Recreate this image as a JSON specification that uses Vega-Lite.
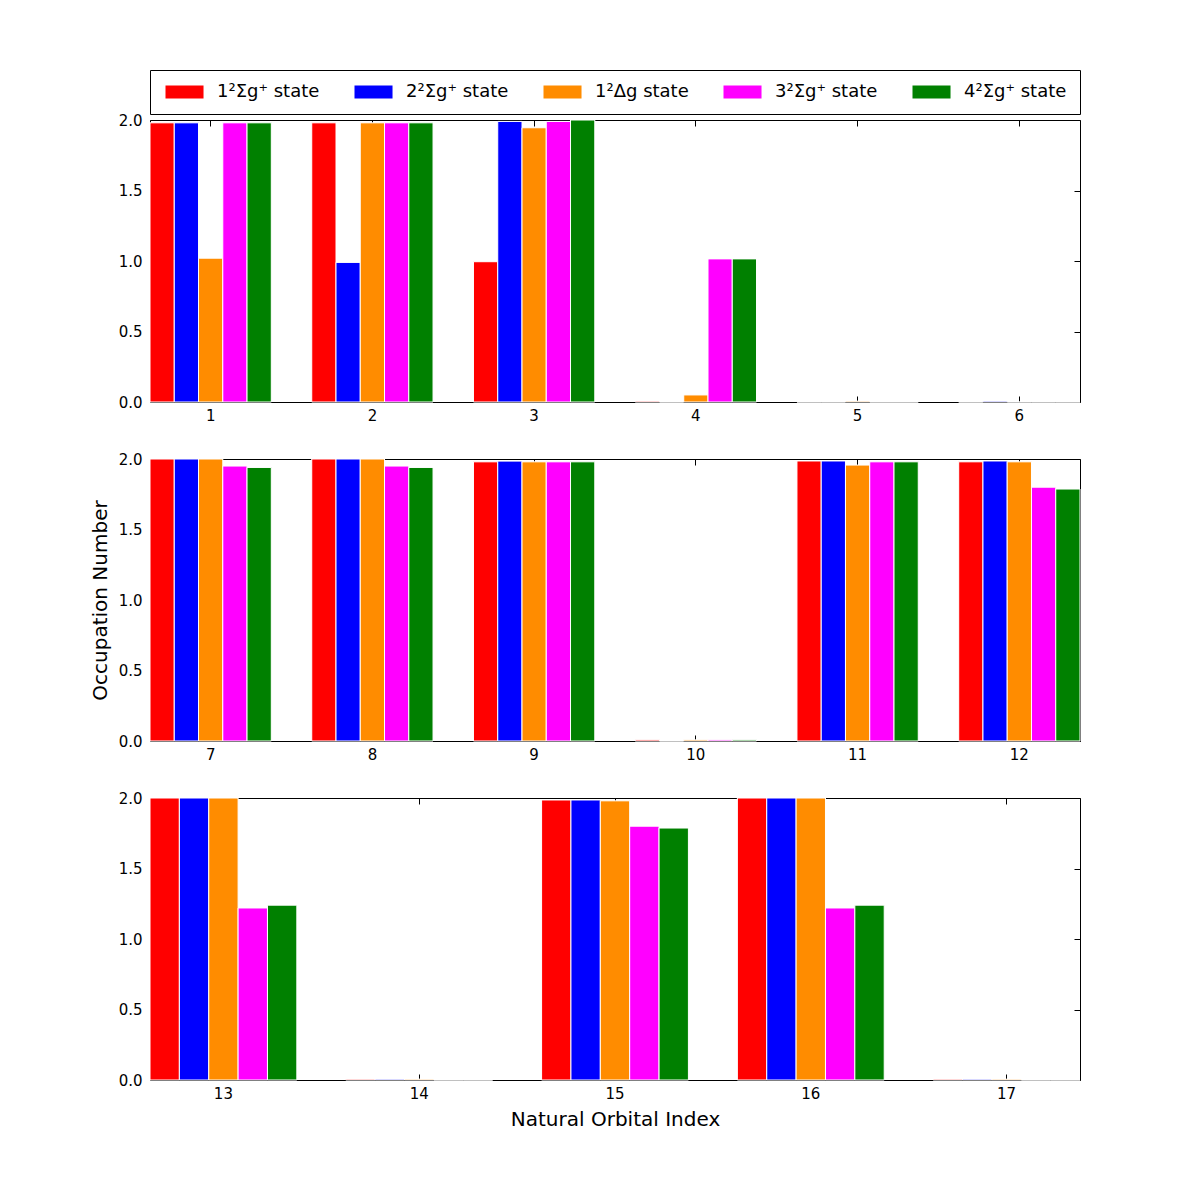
{
  "$schema": "https://vega.github.io/schema/vega-lite/v6.json",
  "autosize": {"type": "pad"},
  "padding": {"left": 90, "top": 69, "right": 0, "bottom": 0},
  "background": "white",
  "config": {
    "view": {"stroke": null},
    "font": "DejaVu Sans",
    "axis": {"labelFont": "DejaVu Sans", "titleFont": "DejaVu Sans", "labelColor": "black", "titleColor": "black", "domainColor": "black", "tickColor": "black", "grid": false, "zindex": 1, "titleFontWeight": "normal"}
  },
  "data": {"values": [
    {"panel": 1, "orbital": 1, "state": "s1", "value": 1.98},
    {"panel": 1, "orbital": 1, "state": "s2", "value": 1.98},
    {"panel": 1, "orbital": 1, "state": "s3", "value": 1.02},
    {"panel": 1, "orbital": 1, "state": "s4", "value": 1.98},
    {"panel": 1, "orbital": 1, "state": "s5", "value": 1.98},
    {"panel": 1, "orbital": 2, "state": "s1", "value": 1.98},
    {"panel": 1, "orbital": 2, "state": "s2", "value": 0.99},
    {"panel": 1, "orbital": 2, "state": "s3", "value": 1.98},
    {"panel": 1, "orbital": 2, "state": "s4", "value": 1.98},
    {"panel": 1, "orbital": 2, "state": "s5", "value": 1.98},
    {"panel": 1, "orbital": 3, "state": "s1", "value": 0.995},
    {"panel": 1, "orbital": 3, "state": "s2", "value": 1.99},
    {"panel": 1, "orbital": 3, "state": "s3", "value": 1.945},
    {"panel": 1, "orbital": 3, "state": "s4", "value": 1.99},
    {"panel": 1, "orbital": 3, "state": "s5", "value": 2.0},
    {"panel": 1, "orbital": 4, "state": "s1", "value": 0.006},
    {"panel": 1, "orbital": 4, "state": "s2", "value": 0},
    {"panel": 1, "orbital": 4, "state": "s3", "value": 0.05},
    {"panel": 1, "orbital": 4, "state": "s4", "value": 1.015},
    {"panel": 1, "orbital": 4, "state": "s5", "value": 1.015},
    {"panel": 1, "orbital": 5, "state": "s1", "value": 0},
    {"panel": 1, "orbital": 5, "state": "s2", "value": 0},
    {"panel": 1, "orbital": 5, "state": "s3", "value": 0.006},
    {"panel": 1, "orbital": 5, "state": "s4", "value": 0},
    {"panel": 1, "orbital": 5, "state": "s5", "value": 0},
    {"panel": 1, "orbital": 6, "state": "s1", "value": 0},
    {"panel": 1, "orbital": 6, "state": "s2", "value": 0.006},
    {"panel": 1, "orbital": 6, "state": "s3", "value": 0},
    {"panel": 1, "orbital": 6, "state": "s4", "value": 0},
    {"panel": 1, "orbital": 6, "state": "s5", "value": 0},
    {"panel": 2, "orbital": 7, "state": "s1", "value": 2.0},
    {"panel": 2, "orbital": 7, "state": "s2", "value": 2.0},
    {"panel": 2, "orbital": 7, "state": "s3", "value": 2.0},
    {"panel": 2, "orbital": 7, "state": "s4", "value": 1.95},
    {"panel": 2, "orbital": 7, "state": "s5", "value": 1.94},
    {"panel": 2, "orbital": 8, "state": "s1", "value": 2.0},
    {"panel": 2, "orbital": 8, "state": "s2", "value": 2.0},
    {"panel": 2, "orbital": 8, "state": "s3", "value": 2.0},
    {"panel": 2, "orbital": 8, "state": "s4", "value": 1.95},
    {"panel": 2, "orbital": 8, "state": "s5", "value": 1.94},
    {"panel": 2, "orbital": 9, "state": "s1", "value": 1.98},
    {"panel": 2, "orbital": 9, "state": "s2", "value": 1.985},
    {"panel": 2, "orbital": 9, "state": "s3", "value": 1.98},
    {"panel": 2, "orbital": 9, "state": "s4", "value": 1.98},
    {"panel": 2, "orbital": 9, "state": "s5", "value": 1.98},
    {"panel": 2, "orbital": 10, "state": "s1", "value": 0.008},
    {"panel": 2, "orbital": 10, "state": "s2", "value": 0},
    {"panel": 2, "orbital": 10, "state": "s3", "value": 0.008},
    {"panel": 2, "orbital": 10, "state": "s4", "value": 0.008},
    {"panel": 2, "orbital": 10, "state": "s5", "value": 0.008},
    {"panel": 2, "orbital": 11, "state": "s1", "value": 1.986},
    {"panel": 2, "orbital": 11, "state": "s2", "value": 1.986},
    {"panel": 2, "orbital": 11, "state": "s3", "value": 1.957},
    {"panel": 2, "orbital": 11, "state": "s4", "value": 1.98},
    {"panel": 2, "orbital": 11, "state": "s5", "value": 1.98},
    {"panel": 2, "orbital": 12, "state": "s1", "value": 1.98},
    {"panel": 2, "orbital": 12, "state": "s2", "value": 1.986},
    {"panel": 2, "orbital": 12, "state": "s3", "value": 1.98},
    {"panel": 2, "orbital": 12, "state": "s4", "value": 1.80},
    {"panel": 2, "orbital": 12, "state": "s5", "value": 1.787},
    {"panel": 3, "orbital": 13, "state": "s1", "value": 2.0},
    {"panel": 3, "orbital": 13, "state": "s2", "value": 2.0},
    {"panel": 3, "orbital": 13, "state": "s3", "value": 2.0},
    {"panel": 3, "orbital": 13, "state": "s4", "value": 1.22},
    {"panel": 3, "orbital": 13, "state": "s5", "value": 1.24},
    {"panel": 3, "orbital": 14, "state": "s1", "value": 0.006},
    {"panel": 3, "orbital": 14, "state": "s2", "value": 0.006},
    {"panel": 3, "orbital": 14, "state": "s3", "value": 0.006},
    {"panel": 3, "orbital": 14, "state": "s4", "value": 0},
    {"panel": 3, "orbital": 14, "state": "s5", "value": 0},
    {"panel": 3, "orbital": 15, "state": "s1", "value": 1.986},
    {"panel": 3, "orbital": 15, "state": "s2", "value": 1.986},
    {"panel": 3, "orbital": 15, "state": "s3", "value": 1.98},
    {"panel": 3, "orbital": 15, "state": "s4", "value": 1.80},
    {"panel": 3, "orbital": 15, "state": "s5", "value": 1.787},
    {"panel": 3, "orbital": 16, "state": "s1", "value": 2.0},
    {"panel": 3, "orbital": 16, "state": "s2", "value": 2.0},
    {"panel": 3, "orbital": 16, "state": "s3", "value": 2.0},
    {"panel": 3, "orbital": 16, "state": "s4", "value": 1.22},
    {"panel": 3, "orbital": 16, "state": "s5", "value": 1.24},
    {"panel": 3, "orbital": 17, "state": "s1", "value": 0.006},
    {"panel": 3, "orbital": 17, "state": "s2", "value": 0.006},
    {"panel": 3, "orbital": 17, "state": "s3", "value": 0.006},
    {"panel": 3, "orbital": 17, "state": "s4", "value": 0},
    {"panel": 3, "orbital": 17, "state": "s5", "value": 0}
  ]},
  "spacing": 57,
  "bounds": "flush",
  "resolve": {"scale": {"x": "independent", "y": "independent", "xOffset": "independent", "color": "shared"}},
  "vconcat": [
    {
      "width": 930, "height": 282,
      "transform": [{"filter": "datum.panel == 1"}],
      "layer": [
        {
          "mark": {"type": "bar", "stroke": "white", "strokeWidth": 1},
          "encoding": {
            "x": {"field": "orbital", "type": "ordinal", "scale": {"paddingInner": 0.25, "paddingOuter": 0}, "axis": {"orient": "bottom", "title": null, "labelAngle": 0, "labelFontSize": 15, "tickSize": -6, "labelPadding": 12}},
            "xOffset": {"field": "state", "type": "nominal", "scale": {"domain": ["s1", "s2", "s3", "s4", "s5"], "paddingInner": 0, "paddingOuter": 0}},
            "y": {"field": "value", "type": "quantitative", "stack": null, "scale": {"domain": [0, 2], "nice": false}, "axis": {"orient": "left", "title": null, "values": [0, 0.5, 1, 1.5, 2], "format": ".1f", "labelFontSize": 15, "tickSize": -6, "labelPadding": 14}},
            "color": {"field": "state", "type": "nominal", "scale": {"domain": ["s1", "s2", "s3", "s4", "s5"], "range": ["#ff0000", "#0000ff", "#ff8c00", "#ff00ff", "#008000"]},
              "legend": {"orient": "top", "offset": -1, "direction": "horizontal", "title": null, "strokeColor": "black", "padding": 13, "labelFont": "DejaVu Sans", "labelFontSize": 18, "labelColor": "black", "symbolType": "M-1,-1H4.85V1H-1Z", "symbolSize": 169, "symbolStrokeWidth": 0, "symbolOpacity": 1, "labelOffset": 36, "columnPadding": 32,
                "labelExpr": "{'s1': '1²Σg⁺ state', 's2': '2²Σg⁺ state', 's3': '1²Δg state', 's4': '3²Σg⁺ state', 's5': '4²Σg⁺ state'}[datum.value]"}}
          }
        },
        {
          "mark": {"type": "bar", "opacity": 0},
          "encoding": {
            "x": {"field": "orbital", "type": "ordinal", "axis": {"orient": "top", "title": null, "labels": false, "tickSize": -6}},
            "y": {"field": "value", "type": "quantitative", "stack": null, "axis": {"orient": "right", "title": null, "labels": false, "values": [0, 0.5, 1, 1.5, 2], "tickSize": -6}}
          }
        }
      ],
      "resolve": {"axis": {"x": "independent", "y": "independent"}}
    },
    {
      "width": 930, "height": 282,
      "transform": [{"filter": "datum.panel == 2"}],
      "layer": [
        {
          "mark": {"type": "bar", "stroke": "white", "strokeWidth": 1},
          "encoding": {
            "x": {"field": "orbital", "type": "ordinal", "scale": {"paddingInner": 0.25, "paddingOuter": 0}, "axis": {"orient": "bottom", "title": null, "labelAngle": 0, "labelFontSize": 15, "tickSize": -6, "labelPadding": 12}},
            "xOffset": {"field": "state", "type": "nominal", "scale": {"domain": ["s1", "s2", "s3", "s4", "s5"], "paddingInner": 0, "paddingOuter": 0}},
            "y": {"field": "value", "type": "quantitative", "stack": null, "scale": {"domain": [0, 2], "nice": false}, "axis": {"orient": "left", "title": "Occupation Number", "titleFontSize": 20, "titlePadding": 8, "values": [0, 0.5, 1, 1.5, 2], "format": ".1f", "labelFontSize": 15, "tickSize": -6, "labelPadding": 14}},
            "color": {"field": "state", "type": "nominal"}
          }
        },
        {
          "mark": {"type": "bar", "opacity": 0},
          "encoding": {
            "x": {"field": "orbital", "type": "ordinal", "axis": {"orient": "top", "title": null, "labels": false, "tickSize": -6}},
            "y": {"field": "value", "type": "quantitative", "stack": null, "axis": {"orient": "right", "title": null, "labels": false, "values": [0, 0.5, 1, 1.5, 2], "tickSize": -6}}
          }
        }
      ],
      "resolve": {"axis": {"x": "independent", "y": "independent"}}
    },
    {
      "width": 930, "height": 282,
      "transform": [{"filter": "datum.panel == 3"}],
      "layer": [
        {
          "mark": {"type": "bar", "stroke": "white", "strokeWidth": 1},
          "encoding": {
            "x": {"field": "orbital", "type": "ordinal", "scale": {"paddingInner": 0.25, "paddingOuter": 0}, "axis": {"orient": "bottom", "title": "Natural Orbital Index", "titleFontSize": 20, "titlePadding": 8, "labelAngle": 0, "labelFontSize": 15, "tickSize": -6, "labelPadding": 12}},
            "xOffset": {"field": "state", "type": "nominal", "scale": {"domain": ["s1", "s2", "s3", "s4", "s5"], "paddingInner": 0, "paddingOuter": 0}},
            "y": {"field": "value", "type": "quantitative", "stack": null, "scale": {"domain": [0, 2], "nice": false}, "axis": {"orient": "left", "title": null, "values": [0, 0.5, 1, 1.5, 2], "format": ".1f", "labelFontSize": 15, "tickSize": -6, "labelPadding": 14}},
            "color": {"field": "state", "type": "nominal"}
          }
        },
        {
          "mark": {"type": "bar", "opacity": 0},
          "encoding": {
            "x": {"field": "orbital", "type": "ordinal", "axis": {"orient": "top", "title": null, "labels": false, "tickSize": -6}},
            "y": {"field": "value", "type": "quantitative", "stack": null, "axis": {"orient": "right", "title": null, "labels": false, "values": [0, 0.5, 1, 1.5, 2], "tickSize": -6}}
          }
        }
      ],
      "resolve": {"axis": {"x": "independent", "y": "independent"}}
    }
  ]
}
